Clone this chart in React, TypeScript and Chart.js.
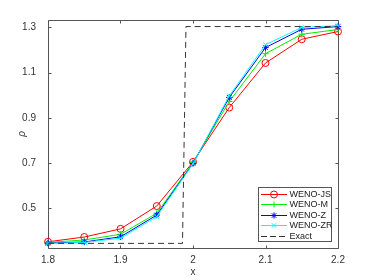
import React, { useEffect, useRef } from "react";
import { Chart, registerables } from "chart.js";

Chart.register(...registerables);

const xValues = [1.8, 1.85, 1.9, 1.95, 2.0, 2.05, 2.1, 2.15, 2.2];
const wenoJS = [0.352, 0.373, 0.409, 0.510, 0.705, 0.945, 1.142, 1.247, 1.281];
const wenoM = [0.349, 0.360, 0.385, 0.478, 0.702, 0.972, 1.183, 1.269, 1.290];
const wenoZ = [0.346, 0.351, 0.374, 0.470, 0.698, 0.990, 1.210, 1.291, 1.303];
const wenoZR = [0.345, 0.349, 0.368, 0.463, 0.697, 0.997, 1.223, 1.299, 1.307];
const exactX = [1.8, 1.9855, 1.9903, 2.2];
const exactY = [0.345, 0.345, 1.303, 1.303];
const xTicks = [1.8, 1.9, 2.0, 2.1, 2.2];
const xTickLabels = ["1.8", "1.9", "2", "2.1", "2.2"];
const yTicks = [0.5, 0.7, 0.9, 1.1, 1.3];
const yTickLabels = ["0.5", "0.7", "0.9", "1.1", "1.3"];
const seriesNames = ["WENO-JS", "WENO-M", "WENO-Z", "WENO-ZR", "Exact"];
const seriesColors = ["#ff0000", "#00ee00", "#0000ff", "#00ffff", "#333333"];
const seriesMarkers = ["circle", "cross", "star", "crossRot", false];

const FONT = "'Liberation Sans', Arial, Helvetica, sans-serif";
const AXIS_COLOR = "#555555";

function drawMarker(ctx: CanvasRenderingContext2D, style: any, x: number, y: number, r: number, color: string) {
  if (!style) return;
  ctx.save();
  ctx.strokeStyle = color;
  ctx.lineWidth = 1;
  ctx.beginPath();
  if (style === "circle") {
    ctx.arc(x, y, r, 0, Math.PI * 2);
  } else {
    if (style === "cross" || style === "star") {
      ctx.moveTo(x - r, y); ctx.lineTo(x + r, y);
      ctx.moveTo(x, y - r); ctx.lineTo(x, y + r);
    }
    if (style === "crossRot" || style === "star") {
      const d = r * 0.75;
      ctx.moveTo(x - d, y - d); ctx.lineTo(x + d, y + d);
      ctx.moveTo(x - d, y + d); ctx.lineTo(x + d, y - d);
    }
  }
  ctx.stroke();
  ctx.restore();
}

const boxPlugin = {
  id: "boxTicks",
  beforeDatasetsDraw(chart: any) {
    const { ctx, chartArea: a, scales } = chart;
    ctx.save();
    ctx.strokeStyle = AXIS_COLOR;
    ctx.lineWidth = 1;
    const L = Math.round(a.left) + 0.5, R = Math.round(a.right) + 0.5;
    const T = Math.round(a.top) + 0.5, B = Math.round(a.bottom) + 0.5;
    ctx.beginPath();
    ctx.rect(L, T, R - L, B - T);
    const tl = 3;
    xTicks.forEach((v) => {
      const px = Math.round(scales.x.getPixelForValue(v)) + 0.5;
      ctx.moveTo(px, B); ctx.lineTo(px, B - tl);
      ctx.moveTo(px, T); ctx.lineTo(px, T + tl);
    });
    yTicks.forEach((v) => {
      const py = Math.round(scales.y.getPixelForValue(v)) + 0.5;
      ctx.moveTo(L, py); ctx.lineTo(L + tl, py);
      ctx.moveTo(R, py); ctx.lineTo(R - tl, py);
    });
    ctx.stroke();
    ctx.restore();
  },
  afterDraw(chart: any) {
    const { ctx } = chart;
    const bx = 258.5, by = 187.5, bw = 73, bh = 54;
    ctx.save();
    ctx.fillStyle = "#ffffff";
    ctx.fillRect(bx, by, bw, bh);
    ctx.strokeStyle = AXIS_COLOR;
    ctx.lineWidth = 1;
    ctx.strokeRect(bx, by, bw, bh);
    ctx.font = `9px ${FONT}`;
    ctx.textBaseline = "middle";
    ctx.textAlign = "left";
    seriesNames.forEach((name, i) => {
      const y = Math.round(193.5 + i * 10.6) + 0.5;
      ctx.strokeStyle = seriesColors[i];
      ctx.lineWidth = 1;
      ctx.setLineDash(i === 4 ? [6, 3] : []);
      ctx.beginPath();
      ctx.moveTo(261, y);
      ctx.lineTo(287, y);
      ctx.stroke();
      ctx.setLineDash([]);
      drawMarker(ctx, seriesMarkers[i], 274, y, i === 0 ? 3.5 : 3, seriesColors[i]);
      ctx.fillStyle = "#222222";
      ctx.fillText(name, 289.5, y);
    });
    ctx.restore();
  },
};

export default function App() {
  const ref = useRef<HTMLCanvasElement>(null);
  useEffect(() => {
    if (!ref.current) return;
    const mk = (ys: number[], i: number) => ({
      label: seriesNames[i],
      data: xValues.map((x, k) => ({ x, y: ys[k] })),
      borderColor: seriesColors[i],
      backgroundColor: "rgba(0,0,0,0)",
      borderWidth: 1,
      pointStyle: seriesMarkers[i] as any,
      pointRadius: i === 0 ? 3.5 : 3.2,
      pointBorderColor: seriesColors[i],
      pointBackgroundColor: "rgba(0,0,0,0)",
      pointBorderWidth: 1,
      tension: 0,
      clip: false as any,
      order: 4 - i,
    });
    const chart = new Chart(ref.current, {
      type: "line",
      data: {
        datasets: [
          mk(wenoJS, 0),
          mk(wenoM, 1),
          mk(wenoZ, 2),
          mk(wenoZR, 3),
          {
            label: seriesNames[4],
            data: exactX.map((x, k) => ({ x, y: exactY[k] })),
            borderColor: seriesColors[4],
            borderWidth: 1,
            borderDash: [6, 4],
            pointRadius: 0,
            tension: 0,
            order: 0,
          } as any,
        ],
      },
      options: {
        animation: false,
        responsive: true,
        maintainAspectRatio: false,
        layout: { padding: { left: 0, top: 20, right: 36, bottom: 0 } },
        plugins: { legend: { display: false }, tooltip: { enabled: false } },
        scales: {
          x: {
            type: "linear",
            min: 1.8,
            max: 2.2,
            afterBuildTicks: (s: any) => { s.ticks = xTicks.map((v) => ({ value: v })); },
            afterFit: (s: any) => { s.height = 32; },
            ticks: {
              padding: 6,
              color: "#333333",
              font: { family: FONT, size: 10 },
              maxRotation: 0,
              autoSkip: false,
              callback: (v: any) => {
                const i = xTicks.findIndex((t) => Math.abs(t - Number(v)) < 1e-9);
                return i >= 0 ? xTickLabels[i] : "";
              },
            },
            grid: { display: true, drawOnChartArea: false, drawTicks: false },
            border: { display: false },
            title: { display: true, text: "x", color: "#333333", font: { family: FONT, size: 10 }, padding: { top: 0, bottom: 2 } },
          },
          y: {
            type: "linear",
            min: 0.3245,
            max: 1.332,
            afterBuildTicks: (s: any) => { s.ticks = yTicks.map((v) => ({ value: v })); },
            afterFit: (s: any) => { s.width = 48; },
            ticks: {
              padding: 12,
              color: "#333333",
              font: { family: FONT, size: 10 },
              autoSkip: false,
              callback: (v: any) => {
                const i = yTicks.findIndex((t) => Math.abs(t - Number(v)) < 1e-9);
                return i >= 0 ? yTickLabels[i] : "";
              },
            },
            grid: { display: true, drawOnChartArea: false, drawTicks: false },
            border: { display: false },
            title: { display: true, text: "ρ", color: "#333333", font: { family: FONT, size: 10, style: "italic" }, padding: { top: 16, bottom: 0 } },
          },
        },
      },
      plugins: [boxPlugin],
    });
    return () => chart.destroy();
  }, []);
  return (
    <div style={{ position: "fixed", left: 0, top: 0, width: 374, height: 280, background: "#fff" }}>
      <canvas ref={ref} />
    </div>
  );
}
